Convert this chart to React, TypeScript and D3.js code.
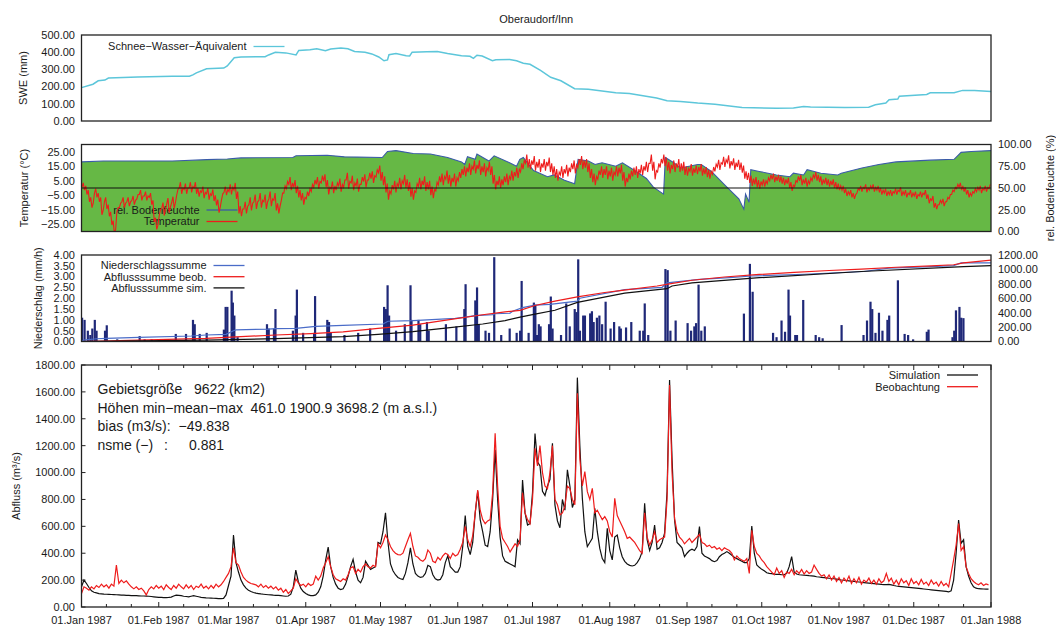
import React from 'react';
import * as d3 from 'd3';

const W = 1056;
const H = 627;
const FONT = '"Liberation Sans", Arial, Helvetica, sans-serif';

const START = Date.UTC(1987, 0, 1);
const END = Date.UTC(1988, 0, 1);
const DAY_MS = 86400000;

const title = 'Oberaudorf/Inn';

// snow water equivalent (mm), day of year -> value
const sweDays = [0, 4.6, 6.7, 9.4, 10.8, 22.6, 36.4, 43.3, 44.7, 46.1, 50.2, 57.1, 58.5, 61.3, 64, 73.7, 75.1, 77.8, 82, 86.1, 87.2, 91.7, 94.4, 97.9, 100, 104.1, 106.9, 109.6, 113.8, 116.5, 119.3, 121.4, 122.8, 123.4, 126.2, 130.3, 131.7, 132.7, 138.6, 142.8, 146.9, 152.5, 155.9, 157.3, 158.7, 160.8, 164.9, 166.3, 171.8, 174.6, 177.3, 180, 184.2, 188.3, 192.4, 197.9, 203.4, 214.4, 219.9, 230.8, 235, 240.4, 247.3, 254.2, 265.1, 278.9, 285.7, 289.8, 292.6, 306.3, 315.9, 318.6, 322.8, 324.1, 327.6, 328.2, 339.2, 340.6, 350.2, 353.6, 358.4, 365];
const sweValues = [194, 214, 234, 238, 250, 256, 260, 260, 268, 280, 304, 308, 320, 368, 372, 374, 384, 400, 396, 384, 410, 414, 420, 408, 418, 424, 420, 404, 400, 390, 372, 350, 355, 385, 392, 380, 378, 400, 402, 404, 392, 380, 376, 364, 382, 378, 350, 356, 358, 350, 336, 330, 294, 254, 234, 188, 184, 164, 160, 134, 118, 114, 104, 98, 78, 74, 76, 84, 82, 78, 80, 94, 104, 124, 128, 144, 154, 164, 164, 178, 178, 172];

// relative soil moisture (%)
const moistDays = [0, 8.8, 36.4, 39.2, 50.2, 58.5, 64, 84.8, 86.1, 98.6, 105.5, 120.7, 122.8, 126.2, 133.1, 140, 146.9, 152.5, 153.8, 154.9, 158, 158.7, 163.5, 165.6, 171.8, 174.6, 175.9, 177.3, 181.4, 187, 189.7, 193.8, 197.9, 199.3, 203.4, 206.1, 208.9, 214.4, 217.1, 222.6, 226.7, 229.5, 233.6, 234.3, 237.7, 240.4, 247.3, 248.7, 252.8, 258.3, 263.8, 265.8, 266.5, 267.9, 268.6, 272, 278.9, 284.3, 285.7, 289.8, 291.2, 296.7, 303.5, 304.9, 313.2, 320, 326.9, 340.6, 350.2, 353, 357.1, 365];
const moistValues = [80, 81, 81, 81.4, 82.6, 83.4, 84.6, 85, 87, 87.7, 85.8, 85, 92, 93, 89.7, 89, 85, 80, 77, 86, 83, 89, 81, 87, 79, 75, 83, 85, 70, 63, 65, 59, 55, 83, 81, 77, 79, 75, 79, 69, 61, 51, 43, 85, 79, 73, 77, 77, 69, 53, 37.5, 25.7, 43, 33.6, 71, 69, 65, 63, 67, 65, 71, 67, 65, 67, 73, 77, 80, 82, 83, 91, 92, 93];

// air temperature (°C), daily mean
const temperature = [
  2, 0, -3, -8, -12, -2, -5, -8, -17, -8,
  -13, -18, -24, -30, -15, -12, -8, -12, -8, -11,
  -7, -10, -6, -3, -7, -4, -7, -5, -10, -22,
  -27, -17, -12, -17, -9, -15, -8, -12, -3, 2,
  -2, 1, -2, 2, -1, 2, -2, -4, -1, -5,
  -2, -6, -3, -7, -10, -15, -6, -1, -3, 0,
  -2, 1, -5, -15, -17, -12, -15, -9, -13, -7,
  -12, -6, -11, -7, -12, -5, -10, -6, -13, -15,
  -6, -1, 2, 5, 1, 3, -1, -4, -6, -9,
  -5, -3, 0, 3, 5, 2, 6, 7, 3, -2,
  2, -1, 1, 4, 0, 3, 8, 2, 6, 1,
  4, 0, 5, 7, 3, 8, 9, 6, 10, 13,
  8, 5, 0, -5, -1, 2, 0, 4, 2, 6,
  3, 1, -3, -5, 0, 4, 2, 5, 1, 2,
  -2, -4, 1, 5, 7, 5, 9, 6, 4, 7,
  4, 8, 10, 12, 11, 14, 12, 16, 13, 16,
  12, 14, 11, 15, 12, 6, 2, 5, 3, 5,
  7, 5, 9, 8, 11, 10, 14, 16, 20, 17,
  16, 19, 15, 17, 14, 17, 15, 18, 14, 12,
  10, 8, 12, 10, 13, 11, 14, 16, 13, 17,
  19, 16, 17, 14, 10, 7, 5, 9, 12, 10,
  12, 9, 11, 8, 12, 11, 13, 8, 4, 7,
  9, 11, 12, 10, 13, 12, 15, 14, 20, 15,
  9, 14, 17, 20, 18, 15, 13, 16, 14, 17,
  14, 15, 12, 11, 14, 11, 13, 12, 14, 11,
  12, 10, 9, 12, 14, 17, 15, 19, 17, 20,
  16, 18, 15, 17, 15, 13, 9, 8, 6, 4,
  5, 3, 2, 4, 3, 5, 7, 8, 6, 7,
  6, 5, 4, 5, 2, 0, 3, 6, 7, 4,
  5, 3, 5, 7, 9, 7, 6, 4, 5, 4,
  3, 4, 2, 1, 0, 0, -2, -4, -3, -5,
  -6, -2, 0, -1, 1, -1.5, 0, 1, -1, 0,
  -1.5, -3, -2, -4, -3, -4, -2, -3, -1, -4,
  -3, -5, -3, -5, -4, -6, -4, -5, -3, -6,
  -9, -7, -12, -13, -10, -9, -11, -8, -6, -3,
  -1, 1, 2, 0, -1, -3, -5, -4, -2, -1,
  0, -2, 0, -1, 1,
];
// width of the day/night temperature band per month (°C)
const diurnalRange = [3, 4, 5, 5, 6, 6, 6, 6, 5, 4, 3, 3];

// precipitation intensity (mm/h)
const precipDays = [0.2, 1.2, 2.5, 3.5, 4.3, 5.3, 6, 9.4, 10.1, 14.3, 23.3, 25.3, 28.1, 37.8, 41.9, 44.7, 45.4, 47.4, 50.2, 57.1, 57.8, 58.5, 60.2, 60.7, 61.3, 62.6, 74.4, 75.1, 77.2, 77.8, 84.8, 85.9, 86.4, 88.9, 93.3, 93.7, 98.6, 99.3, 100, 105.5, 111, 115.8, 121.4, 122.1, 122.8, 123.4, 126.2, 129.7, 132, 132.4, 135.2, 135.9, 138.6, 139.3, 146.2, 150.4, 153.6, 154.1, 158, 158.7, 159.4, 162.1, 163.5, 165.6, 168.4, 171.8, 174.6, 176, 176.6, 179.4, 181.5, 182.1, 182.8, 183.5, 184.2, 187.6, 188.3, 189, 192.4, 194.5, 195.9, 197.9, 198.6, 199.3, 200, 201.3, 202, 204.1, 204.8, 205.5, 206.8, 207.8, 208.9, 210.3, 212.3, 213.7, 215.8, 216.4, 218.5, 220.6, 224, 225.4, 226, 227.4, 234.3, 235.2, 236.3, 238.4, 243.2, 244.6, 245.9, 246.6, 247.6, 248.7, 250.1, 265.8, 268.2, 269.3, 277.5, 278.9, 280.9, 282.3, 283.7, 284.3, 286.4, 287.1, 289.6, 294.6, 296, 297.4, 305, 313.8, 315.2, 316.6, 317.3, 318.6, 320, 321.4, 323.4, 324.1, 327.6, 330.3, 331.7, 333.7, 339.2, 339.9, 349.5, 350.2, 350.9, 352.3, 353, 353.9];
const precipValues = [1.1, 1.0, 0.5, 0.3, 0.6, 1.0, 0.5, 0.5, 0.75, 0.1, 0.25, 0.1, 0.1, 0.35, 0.35, 1.0, 0.8, 0.35, 0.4, 0.55, 1.6, 1.6, 2.35, 1.8, 1.2, 0.2, 0.8, 0.6, 0.6, 1.5, 0.5, 1.2, 2.4, 0.4, 0.4, 2.1, 1.0, 0.9, 0.4, 0.3, 0.4, 0.6, 1.6, 1.5, 2.6, 1.2, 0.5, 0.8, 2.6, 1.0, 1.0, 0.8, 0.9, 0.5, 0.8, 0.7, 1.5, 2.65, 1.9, 2.5, 0.8, 0.5, 0.4, 3.9, 0.3, 0.6, 0.4, 0.5, 2.8, 0.4, 1.8, 1.7, 0.3, 0.8, 0.7, 0.8, 2.08, 0.6, 0.3, 1.76, 0.7, 1.5, 1.36, 3.8, 0.5, 1.2, 1.2, 1.3, 1.4, 0.9, 1.1, 1.2, 0.8, 1.84, 0.6, 0.9, 0.7, 0.6, 0.65, 0.9, 0.5, 0.5, 1.76, 0.3, 3.35, 3.3, 0.5, 0.97, 0.85, 0.5, 0.7, 0.85, 2.63, 0.5, 0.7, 1.29, 3.59, 2.3, 0.4, 0.2, 0.97, 0.45, 2.4, 1.2, 0.3, 0.3, 1.92, 0.3, 0.2, 0.15, 0.76, 0.3, 0.97, 1.84, 1.5, 0.4, 1.33, 0.5, 1.0, 1.2, 2.83, 0.35, 0.3, 0.1, 0.45, 0.55, 0.2, 0.5, 1.44, 1.6, 1.1, 1.08];

// cumulative sums (mm)
const cumPrecipDays = [0, 1, 6, 10, 23, 44, 50, 58, 61, 62, 75, 78, 86, 94, 105, 121, 123, 133, 150, 154, 158, 165, 166, 172, 173, 177, 182, 188, 199, 200, 218, 233, 235, 248, 260, 269, 290, 314, 324, 341, 350, 353, 365];
const cumPrecipValues = [0, 20, 38, 43, 57, 76, 90, 100, 150, 162, 171, 178, 183, 210, 224, 243, 281, 290, 320, 338, 360, 372, 385, 392, 420, 470, 505, 515, 560, 600, 719, 752, 814, 862, 885, 909, 933, 971, 1019, 1038, 1052, 1090, 1090];
const cumObsDays = [0, 23, 50, 64, 78, 92, 105, 119, 133, 147, 161, 170, 176, 182, 190, 199, 210, 217, 231, 236, 245, 258, 272, 286, 300, 313, 327, 341, 350, 354, 365];
const cumObsValues = [0, 19, 43, 67, 90, 110, 133, 181, 228, 300, 371, 410, 433, 500, 560, 620, 680, 710, 770, 800, 850, 895, 930, 960, 985, 1005, 1030, 1050, 1065, 1090, 1130];
const cumSimDays = [0, 23, 50, 78, 105, 119, 133, 147, 161, 170, 176, 182, 190, 199, 218, 235, 237, 245, 272, 313, 354, 365];
const cumSimValues = [0, 10, 20, 40, 67, 100, 138, 190, 243, 290, 338, 380, 433, 543, 671, 733, 770, 814, 885, 971, 1038, 1052];

// discharge (m3/s), one value per day
const dischargeSim = [
  150, 200, 175, 145, 120, 110, 105, 100, 98, 96,
  95, 94, 93, 92, 91, 90, 89, 88, 87, 86,
  85, 84, 84, 83, 82, 82, 81, 80, 78, 76,
  74, 72, 71, 70, 70, 71, 74, 82, 88, 86,
  84, 80, 78, 76, 80, 84, 80, 76, 72, 70,
  68, 67, 66, 65, 64, 63, 62, 64, 90, 160,
  230, 536, 330, 260, 200, 165, 140, 125, 115, 108,
  103, 100, 97, 95, 93, 91, 90, 88, 87, 86,
  84, 82, 80, 82, 95, 150, 275, 190, 140, 115,
  100, 90, 85, 85, 90, 110, 150, 230, 350, 445,
  300, 220, 170, 140, 130, 135, 170, 230, 300, 355,
  260, 200, 180, 220, 340, 310, 280, 290, 300, 480,
  470, 560, 700, 480, 320, 270, 240, 220, 210, 205,
  250, 330, 440, 320, 250, 230, 220, 225, 250, 310,
  300, 240, 210, 200, 205, 240, 330, 380, 300, 280,
  260, 260, 300, 450, 680, 450, 390, 480, 700, 860,
  650, 560, 460, 450, 560, 800, 1170, 800, 520, 380,
  340, 330, 320, 310, 300, 500, 470, 945, 700, 610,
  620, 850, 1290, 1080, 1050, 860, 830, 900, 950, 1218,
  760, 640, 590, 800, 720, 1020, 900, 740, 800, 1706,
  1200, 808, 560, 450, 480, 511, 734, 560, 436, 360,
  330, 585, 420, 350, 520, 535, 440, 374, 340, 320,
  310, 305, 310, 330, 360, 412, 771, 500, 420, 480,
  610, 430, 440, 480, 550, 858, 1689, 1100, 650, 480,
  461, 440, 374, 400, 420, 430, 420, 450, 598, 400,
  380, 370, 360, 345, 337, 345, 374, 390, 400, 412,
  400, 385, 370, 360, 350, 340, 330, 330, 360, 603,
  400, 312, 295, 280, 270, 255, 250, 248, 245, 243,
  242, 240, 240, 250, 300, 374, 260, 245, 240, 238,
  236, 235, 233, 232, 230, 225, 223, 221, 219, 217,
  214, 212, 210, 207, 204, 201, 199, 197, 195, 192,
  190, 188, 186, 184, 182, 180, 178, 176, 174, 172,
  170, 168, 167, 166, 168, 165, 160, 156, 154, 152,
  150, 148, 146, 144, 142, 140, 138, 136, 134, 132,
  130, 128, 126, 124, 122, 120, 118, 116, 112, 120,
  200, 400, 647, 474, 500, 300, 230, 180, 150, 140,
  136, 135, 134, 133, 133,
];
const dischargeObs = [
  100, 150, 140, 125, 150, 135, 160, 145, 170, 150,
  165, 140, 170, 155, 312, 175, 200, 180, 195, 170,
  150, 135, 150, 130, 140, 120, 90, 130, 150, 135,
  160, 140, 155, 130, 165, 145, 130, 160, 140, 170,
  150, 135, 165, 140, 160, 130, 155, 145, 170, 140,
  155, 135, 160, 140, 170, 150, 165, 190, 220, 250,
  300, 440, 330, 312, 260, 220, 200, 185, 175, 170,
  165, 150, 170, 145, 160, 140, 155, 135, 150, 125,
  140, 110, 130, 100, 120, 140, 210, 180, 160, 170,
  150, 175, 160, 170, 230, 200, 230, 290, 330, 374,
  300, 240, 210, 200, 190, 210, 200, 240, 290, 300,
  250, 280, 260, 300, 320, 300, 290, 310, 300, 470,
  440, 480, 535, 500, 450, 420, 400, 390, 387, 400,
  450, 500, 548, 450, 380, 370, 350, 340, 360, 424,
  400, 340, 330, 370, 350, 380, 400, 390, 360, 400,
  380, 390, 430, 480, 600, 500, 450, 530, 700, 870,
  720, 650, 620, 640, 650, 850, 1292, 900, 600, 510,
  480, 450, 410, 440, 470, 450, 500, 850, 700, 650,
  620, 800, 1180, 1050, 1200, 1000, 900, 880, 1000, 1200,
  800, 760, 685, 700, 750, 900, 880, 800, 760, 1590,
  1100, 900, 1007, 858, 800, 883, 700, 720, 684, 650,
  672, 640, 560, 520, 808, 680, 640, 600, 560, 511,
  520, 500, 480, 450, 420, 400, 700, 520, 461, 500,
  560, 480, 500, 511, 520, 800, 1652, 1000, 660, 560,
  520, 500, 470, 490, 510, 480, 500, 520, 540, 480,
  470, 450, 460, 440, 450, 430, 440, 420, 440, 430,
  420, 400, 350, 380, 360, 350, 340, 360, 250, 570,
  450, 399, 380, 350, 330, 300, 280, 260, 240, 290,
  250, 270, 220, 260, 250, 280, 240, 270, 250, 280,
  245, 270, 250, 260, 312, 280, 250, 230, 240, 210,
  238, 200, 230, 190, 220, 180, 215, 190, 230, 175,
  210, 180, 220, 170, 200, 185, 215, 175, 200, 170,
  210, 180, 195, 250, 190, 215, 170, 200, 165, 210,
  180, 195, 160, 210, 175, 190, 165, 205, 170, 185,
  160, 200, 170, 185, 155, 190, 160, 175, 150, 250,
  350, 461, 620, 420, 450, 300, 250, 210, 190, 175,
  165, 180, 160, 172, 165,
];

// catchment statistics shown in the discharge panel
const infoLabels = ['Gebietsgröße', 'Höhen min−mean−max', 'bias (m3/s):', 'nsme (−)'];
const infoValues = ['9622 (km2)', '461.0 1900.9 3698.2 (m a.s.l.)', '−49.838', '0.881'];

const X_LEFT = 81.5;
const X_RIGHT = 991;
const p1 = { top: 35, bottom: 121 };
const p2 = { top: 144.5, bottom: 231.5 };
const p3 = { top: 255, bottom: 341.5 };
const p4 = { top: 365, bottom: 607 };

const dayDate = (d: number) => new Date(START + d * DAY_MS);
const fmt = d3.format('.2f');

const C = {
  swe: '#5cc6da',
  green: '#66b845',
  moist: '#3a5aa8',
  temp: '#ee1c1c',
  bars: '#1f2878',
  cumP: '#4a6cc8',
  red: '#ee1c1c',
  text: '#1a1a1a',
};

function Frame({ top, bottom }: { top: number; bottom: number }) {
  return (
    <rect x={X_LEFT} y={top} width={X_RIGHT - X_LEFT} height={bottom - top}
      fill="none" stroke="#222" strokeWidth={1.3} />
  );
}

function LeftLabels({ scale, ticks }: { scale: d3.ScaleLinear<number, number>; ticks: number[] }) {
  return (
    <g fontSize={11} fill={C.text} textAnchor="end">
      {ticks.map(t => (
        <text key={t} x={75} y={scale(t)} dy="0.35em">{fmt(t)}</text>
      ))}
    </g>
  );
}

function RightLabels({ scale, ticks }: { scale: d3.ScaleLinear<number, number>; ticks: number[] }) {
  return (
    <g fontSize={11} fill={C.text} textAnchor="start">
      {ticks.map(t => (
        <text key={t} x={998} y={scale(t)} dy="0.35em">{fmt(t)}</text>
      ))}
    </g>
  );
}

function VLabel({ x, y, text }: { x: number; y: number; text: string }) {
  return (
    <text transform={`translate(${x},${y}) rotate(-90)`} textAnchor="middle" dy="0.35em"
      fontSize={11} fill={C.text}>{text}</text>
  );
}

function LegendItem({ xText, y, label, color }: { xText: number; y: number; label: string; color: string }) {
  return (
    <g>
      <text x={xText} y={y} dy="0.35em" textAnchor="end" fontSize={11} fill={C.text}>{label}</text>
      <line x1={xText + 7} x2={xText + 38} y1={y} y2={y} stroke={color} strokeWidth={1.3} />
    </g>
  );
}

export default function App() {
  const x = d3.scaleUtc().domain([new Date(START), new Date(END)]).range([X_LEFT, X_RIGHT]);

  const ySwe = d3.scaleLinear().domain([0, 500]).range([p1.bottom, p1.top]);
  const yTemp = d3.scaleLinear().domain([-30, 30]).range([p2.bottom, p2.top]);
  const yMoist = d3.scaleLinear().domain([0, 100]).range([p2.bottom, p2.top]);
  const yPrec = d3.scaleLinear().domain([0, 4]).range([p3.bottom, p3.top]);
  const yCum = d3.scaleLinear().domain([0, 1200]).range([p3.bottom, p3.top]);
  const yQ = d3.scaleLinear().domain([0, 1800]).range([p4.bottom, p4.top]);

  const pairLine = (days: number[], y: d3.ScaleLinear<number, number>) =>
    d3.line<number>().x((_, i) => x(dayDate(days[i]))).y(v => y(v));
  const dailyLine = (y: d3.ScaleLinear<number, number>) =>
    d3.line<number>().x((_, i) => x(dayDate(i))).y(v => y(v));

  const moistArea = d3.area<number>()
    .x((_, i) => x(dayDate(moistDays[i])))
    .y0(p2.bottom)
    .y1(v => yMoist(v));

  // temperature drawn as night low / day high for every day
  const tempPoints: [number, number][] = temperature.flatMap((t, i) => {
    const r = diurnalRange[dayDate(i).getUTCMonth()] / 2;
    return [[i + 0.2, t - r], [i + 0.7, t + r]] as [number, number][];
  });
  const tempLine = d3.line<[number, number]>().x(d => x(dayDate(d[0]))).y(d => yTemp(d[1]));

  const months = d3.utcMonth.range(new Date(START), new Date(END + 1));
  const minor = months.slice(0, -1).flatMap(m => [d3.utcDay.offset(m, 10), d3.utcDay.offset(m, 20)]);
  const monthFmt = d3.utcFormat('%d.%b %Y');

  return (
    <svg width={W} height={H} style={{ position: 'absolute', left: 0, top: 0, background: '#fff' }}
      fontFamily={FONT}>
      <defs>
        {[p1, p2, p3, p4].map((p, i) => (
          <clipPath id={`clip${i}`} key={i}>
            <rect x={X_LEFT} y={p.top} width={X_RIGHT - X_LEFT} height={p.bottom - p.top} />
          </clipPath>
        ))}
      </defs>

      <text x={(X_LEFT + X_RIGHT) / 2} y={19} dy="0.35em" textAnchor="middle" fontSize={11} fill={C.text}>{title}</text>

      {/* panel 1: SWE */}
      <g clipPath="url(#clip0)">
        <path d={pairLine(sweDays, ySwe)(sweValues) || ''} fill="none" stroke={C.swe} strokeWidth={1.5} />
      </g>
      <LegendItem xText={246.5} y={46.5} label="Schnee−Wasser−Äquivalent" color={C.swe} />
      <Frame {...p1} />
      <LeftLabels scale={ySwe} ticks={d3.range(0, 501, 100)} />
      <VLabel x={23.5} y={(p1.top + p1.bottom) / 2} text="SWE (mm)" />

      {/* panel 2: temperature & soil moisture */}
      <g clipPath="url(#clip1)">
        <path d={moistArea(moistValues) || ''} fill={C.green} />
        <path d={pairLine(moistDays, yMoist)(moistValues) || ''} fill="none" stroke={C.moist} strokeWidth={1.1} />
      </g>
      <LegendItem xText={199.5} y={210} label="rel. Bodenfeuchte" color={C.moist} />
      <LegendItem xText={199.5} y={221.5} label="Temperatur" color={C.temp} />
      <g clipPath="url(#clip1)">
        <path d={tempLine(tempPoints) || ''} fill="none" stroke={C.temp} strokeWidth={1.1} />
        <line x1={X_LEFT} x2={X_RIGHT} y1={yTemp(0)} y2={yTemp(0)} stroke="#111" strokeWidth={1.2} />
      </g>
      <Frame {...p2} />
      <LeftLabels scale={yTemp} ticks={d3.range(-25, 26, 10)} />
      <RightLabels scale={yMoist} ticks={d3.range(0, 101, 25)} />
      <VLabel x={24} y={(p2.top + p2.bottom) / 2} text="Temperatur (°C)" />
      <VLabel x={1050} y={(p2.top + p2.bottom) / 2} text="rel. Bodenfeuchte (%)" />

      {/* panel 3: precipitation & cumulative sums */}
      <g clipPath="url(#clip2)">
        {precipValues.map((v, i) => (
          <rect key={i} x={x(dayDate(precipDays[i])) - 1} width={2.2}
            y={yPrec(v)} height={yPrec(0) - yPrec(v)} fill={C.bars} />
        ))}
        <path d={pairLine(cumPrecipDays, yCum)(cumPrecipValues) || ''} fill="none" stroke={C.cumP} strokeWidth={1.2} />
        <path d={pairLine(cumObsDays, yCum)(cumObsValues) || ''} fill="none" stroke={C.red} strokeWidth={1.2} />
        <path d={pairLine(cumSimDays, yCum)(cumSimValues) || ''} fill="none" stroke="#111" strokeWidth={1.2} />
      </g>
      <LegendItem xText={206.5} y={265.5} label="Niederschlagssumme" color={C.cumP} />
      <LegendItem xText={206.5} y={276.7} label="Abflusssumme beob." color={C.red} />
      <LegendItem xText={206.5} y={287.9} label="Abflusssumme sim." color="#111" />
      <Frame {...p3} />
      <LeftLabels scale={yPrec} ticks={d3.range(0, 4.01, 0.5)} />
      <RightLabels scale={yCum} ticks={d3.range(0, 1201, 200)} />
      <VLabel x={38} y={(p3.top + p3.bottom) / 2} text="Niederschlag (mm/h)" />

      {/* panel 4: discharge */}
      <g clipPath="url(#clip3)">
        <path d={dailyLine(yQ)(dischargeSim) || ''} fill="none" stroke="#111" strokeWidth={1.2} />
        <path d={dailyLine(yQ)(dischargeObs) || ''} fill="none" stroke={C.red} strokeWidth={1.2} />
      </g>
      <g fontSize={14} fill={C.text}>
        {infoLabels.map((l, i) => (
          <text key={l} x={97.5} y={389 + i * 18.6} dy="0.35em">{l}</text>
        ))}
        <text x={194} y={389} dy="0.35em">{infoValues[0]}</text>
        <text x={250.5} y={389 + 18.6} dy="0.35em">{infoValues[1]}</text>
        <text x={178.5} y={389 + 2 * 18.6} dy="0.35em">{infoValues[2]}</text>
        <text x={164} y={389 + 3 * 18.6} dy="0.35em">:</text>
        <text x={189} y={389 + 3 * 18.6} dy="0.35em">{infoValues[3]}</text>
      </g>
      <LegendItem xText={940} y={375} label="Simulation" color="#111" />
      <LegendItem xText={940} y={386.7} label="Beobachtung" color={C.red} />
      <Frame {...p4} />
      <g stroke="#222" strokeWidth={1}>
        {d3.range(0, 1801, 200).map(t => (
          <line key={t} x1={X_LEFT} x2={X_LEFT + 4} y1={yQ(t)} y2={yQ(t)} />
        ))}
        {months.map(m => (
          <g key={+m}>
            <line x1={x(m)} x2={x(m)} y1={p4.bottom} y2={p4.bottom - 5} />
            <line x1={x(m)} x2={x(m)} y1={p4.top} y2={p4.top + 5} />
          </g>
        ))}
        {minor.map(m => (
          <g key={+m}>
            <line x1={x(m)} x2={x(m)} y1={p4.bottom} y2={p4.bottom - 3} />
            <line x1={x(m)} x2={x(m)} y1={p4.top} y2={p4.top + 3} />
          </g>
        ))}
      </g>
      <LeftLabels scale={yQ} ticks={d3.range(0, 1801, 200)} />
      <g fontSize={11} fill={C.text} textAnchor="middle">
        {months.map(m => (
          <text key={+m} x={x(m)} y={620} dy="0.35em">{monthFmt(m)}</text>
        ))}
      </g>
      <VLabel x={16.5} y={(p4.top + p4.bottom) / 2} text="Abfluss (m³/s)" />
    </svg>
  );
}
